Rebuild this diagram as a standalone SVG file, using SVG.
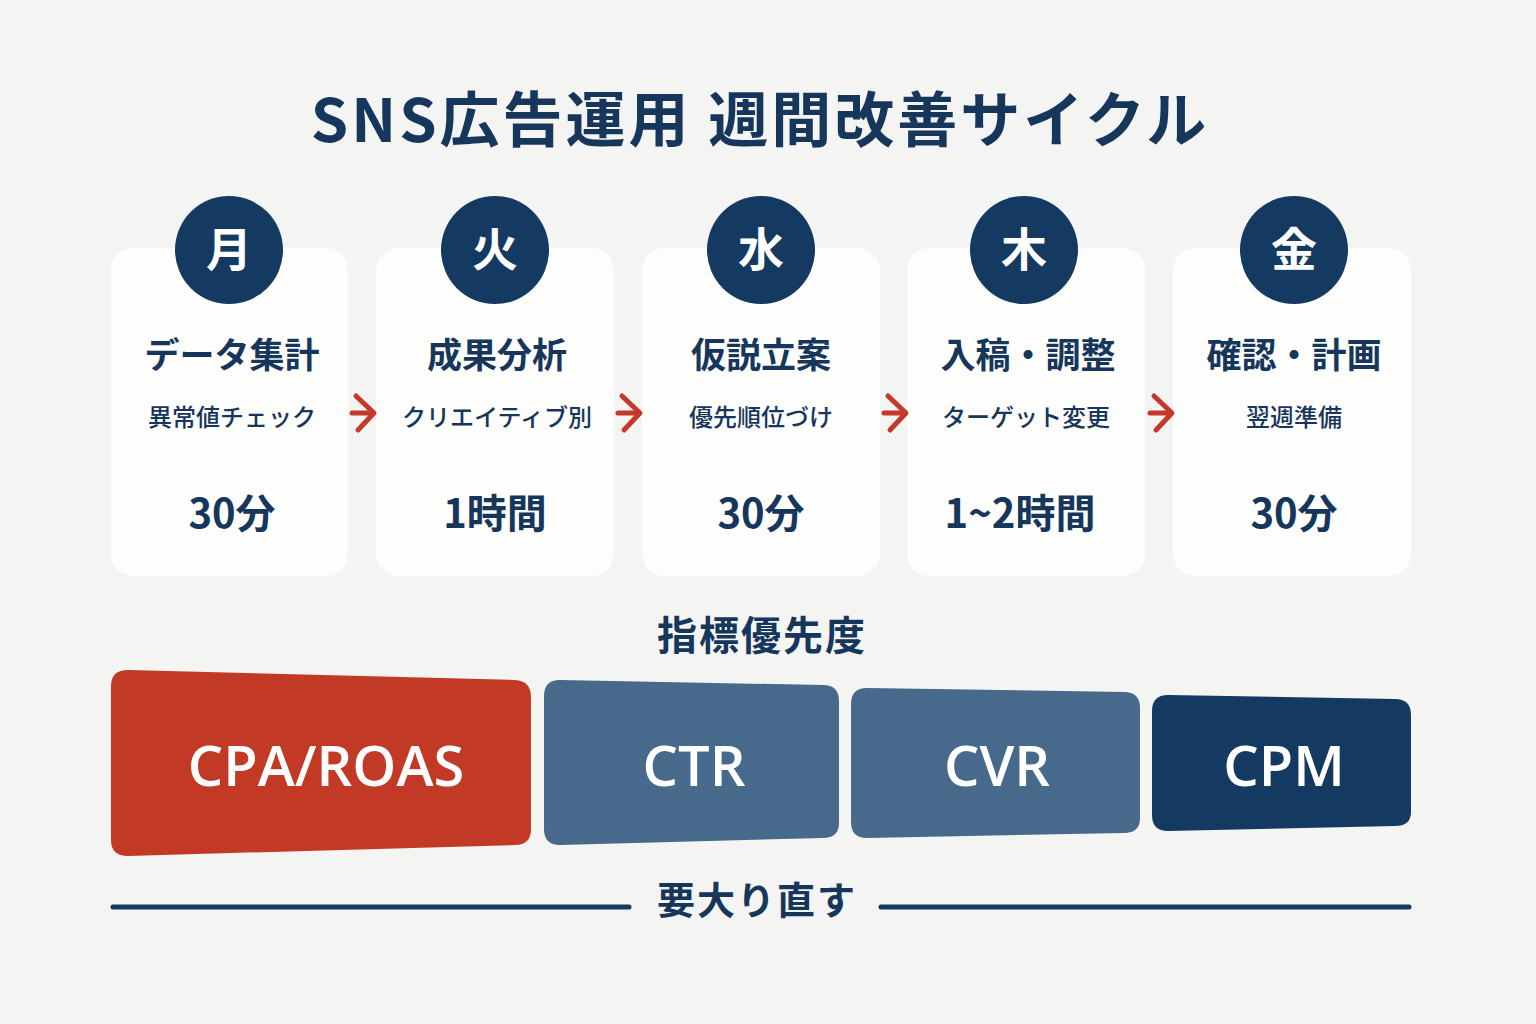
<svg xmlns="http://www.w3.org/2000/svg" width="1536" height="1024" viewBox="0 0 1536 1024">
<style>
text{font-family:"Noto Sans CJK JP","Noto Sans",sans-serif;fill:#16365c;text-anchor:middle;font-weight:700}
.card{fill:#fdfdfb}
.circ{fill:#143a61}
.day{fill:#fff;font-size:46px}
.t{font-size:35px}
.s{font-size:24px;font-weight:500}
.m{font-size:40px}
.arr{fill:none;stroke:#c6392a;stroke-width:5;stroke-linecap:round;stroke-linejoin:round}
.b{fill:#fff;font-size:56px;font-family:"Open Sans","Noto Sans",sans-serif;font-weight:600}
</style>
<rect width="1536" height="1024" fill="#f4f4f3"/>
<text x="760" y="142" font-size="60" letter-spacing="3">SNS広告運用 週間改善サイクル</text>
<g id="mon"><rect class="card" x="111" y="248" width="237" height="328" rx="22"/><circle class="circ" cx="229" cy="250" r="54"/><text class="day" x="229" y="266">月</text><text class="t" x="232" y="368">データ集計</text><text class="s" x="232" y="426">異常値チェック</text><text class="m" x="232" y="528">30分</text></g>
<g id="tue"><rect class="card" x="376" y="248" width="238" height="328" rx="22"/><circle class="circ" cx="495" cy="250" r="54"/><text class="day" x="495" y="266">火</text><text class="t" x="497" y="368">成果分析</text><text class="s" x="497" y="426">クリエイティブ別</text><text class="m" x="495" y="528">1時間</text></g>
<g id="wed"><rect class="card" x="642" y="248" width="238" height="328" rx="22"/><circle class="circ" cx="761" cy="250" r="54"/><text class="day" x="761" y="266">水</text><text class="t" x="761" y="368">仮説立案</text><text class="s" x="761" y="426">優先順位づけ</text><text class="m" x="761" y="528">30分</text></g>
<g id="thu"><rect class="card" x="907" y="248" width="238" height="328" rx="22"/><circle class="circ" cx="1024" cy="250" r="54"/><text class="day" x="1024" y="266">木</text><text class="t" x="1028" y="368">入稿・調整</text><text class="s" x="1026" y="426">ターゲット変更</text><text class="m" x="1020" y="528">1~2時間</text></g>
<g id="fri"><rect class="card" x="1173" y="248" width="238" height="328" rx="22"/><circle class="circ" cx="1294" cy="250" r="54"/><text class="day" x="1294" y="266">金</text><text class="t" x="1294" y="368">確認・計画</text><text class="s" x="1294" y="426">翌週準備</text><text class="m" x="1294" y="528">30分</text></g>
<g id="connectors">
<path class="arr" d="M356 396 L374 413 L358 430 M352 413 H372"/>
<path class="arr" d="M622 396 L640 413 L624 430 M618 413 H638"/>
<path class="arr" d="M888 396 L906 413 L890 430 M884 413 H904"/>
<path class="arr" d="M1154 396 L1172 413 L1156 430 M1150 413 H1170"/>
</g>
<text x="762" y="650" font-size="40" letter-spacing="2">指標優先度</text>
<g id="cpa"><path d="M128 670 L515 680 Q531 681 531 697 L531 829 Q531 845 515 845 L128 856 Q111 856 111 840 L111 686 Q111 670 128 670Z" fill="#c23a26"/><text class="b" x="326" y="786">CPA/ROAS</text></g>
<g id="ctr"><path d="M560 680 L823 685 Q839 685 839 701 L839 823 Q839 838 823 838 L560 845 Q544 845 544 829 L544 696 Q544 680 560 680Z" fill="#46698c"/><text class="b" x="694" y="786">CTR</text></g>
<g id="cvr"><path d="M867 688 L1124 692 Q1140 692 1140 708 L1140 818 Q1140 833 1124 833 L867 838 Q851 838 851 822 L851 704 Q851 688 867 688Z" fill="#46698c"/><text class="b" x="997" y="786">CVR</text></g>
<g id="cpm"><path d="M1168 695 L1395 699 Q1411 699 1411 715 L1411 812 Q1411 826 1395 826 L1168 831 Q1152 831 1152 815 L1152 711 Q1152 695 1168 695Z" fill="#143a61"/><text class="b" x="1284" y="786">CPM</text></g>
<g id="footer"><path d="M113 907 H629 M881 907 H1409" stroke="#143a61" stroke-width="5" stroke-linecap="round"/><text x="757" y="914" font-size="38" letter-spacing="2">要大り直す</text></g>
</svg>
